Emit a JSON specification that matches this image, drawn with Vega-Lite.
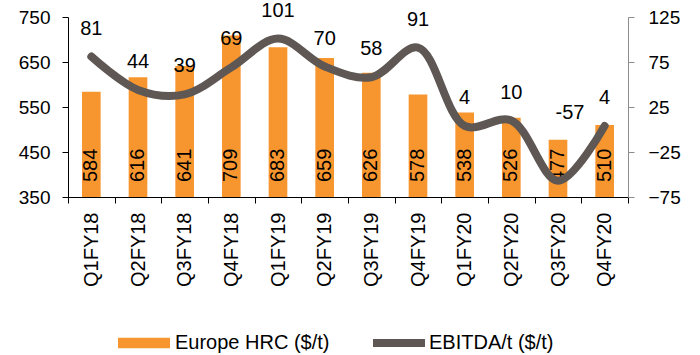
{
  "$schema": "https://vega.github.io/schema/vega-lite/v6.json",
  "width": 560,
  "height": 180,
  "autosize": {"type": "none"},
  "padding": {"left": 68, "top": 17, "right": 72, "bottom": 158},
  "config": {
    "view": {"stroke": null},
    "font": "Liberation Sans",
    "axis": {
      "labelFont": "Liberation Sans",
      "labelFontSize": 19,
      "labelColor": "#000000",
      "grid": false,
      "title": null,
      "tickSize": 6,
      "domainWidth": 1,
      "tickWidth": 1
    },
    "legend": {
      "labelFont": "Liberation Sans",
      "labelFontSize": 20,
      "labelColor": "#000000",
      "title": null,
      "padding": 0
    }
  },
  "data": {
    "values": [
      {"q": "Q1FY18", "hrc": 584, "ebitda": 81},
      {"q": "Q2FY18", "hrc": 616, "ebitda": 44},
      {"q": "Q3FY18", "hrc": 641, "ebitda": 39},
      {"q": "Q4FY18", "hrc": 709, "ebitda": 69},
      {"q": "Q1FY19", "hrc": 683, "ebitda": 101},
      {"q": "Q2FY19", "hrc": 659, "ebitda": 70},
      {"q": "Q3FY19", "hrc": 626, "ebitda": 58},
      {"q": "Q4FY19", "hrc": 578, "ebitda": 91},
      {"q": "Q1FY20", "hrc": 538, "ebitda": 4},
      {"q": "Q2FY20", "hrc": 526, "ebitda": 10},
      {"q": "Q3FY20", "hrc": 477, "ebitda": -57},
      {"q": "Q4FY20", "hrc": 510, "ebitda": 4}
    ]
  },
  "encoding": {
    "x": {
      "field": "q",
      "type": "nominal",
      "sort": null,
      "scale": {"paddingInner": 0, "paddingOuter": 0},
      "axis": {
        "labelAngle": -90,
        "tickBand": "extent",
        "labelPadding": 9,
        "domainColor": "#000000",
        "tickColor": "#000000",
        "labelFontSize": 20
      }
    }
  },
  "layer": [
    {
      "layer": [
        {
          "mark": {"type": "bar", "width": {"band": 0.4}, "color": "#F7962F"},
          "encoding": {
            "y": {
              "field": "hrc",
              "type": "quantitative",
              "scale": {"domain": [350, 750], "nice": false, "zero": false},
              "axis": {
                "values": [350, 450, 550, 650, 750],
                "orient": "left",
                "labelPadding": 12,
                "domainColor": "#000000",
                "tickColor": "#000000"
              }
            },
            "y2": {"datum": 350},
            "color": {
              "datum": "Europe HRC ($/t)",
              "scale": {"range": ["#F7962F"]},
              "legend": {
                "orient": "none",
                "legendX": 50,
                "legendY": 300,
                "symbolType": "M-1,-0.2H1V0.2H-1Z",
                "symbolSize": 2704,
                "symbolStrokeWidth": 0,
                "labelOffset": 5
              }
            }
          }
        },
        {
          "mark": {
            "type": "text",
            "angle": 270,
            "align": "left",
            "baseline": "middle",
            "dx": 15,
            "fontSize": 20,
            "color": "#000000"
          },
          "encoding": {
            "y": {"datum": 350, "type": "quantitative"},
            "text": {"field": "hrc", "type": "nominal"}
          }
        }
      ]
    },
    {
      "layer": [
        {
          "mark": {
            "type": "line",
            "interpolate": "catmull-rom",
            "strokeWidth": 8,
            "strokeCap": "round",
            "color": "#5E5754"
          },
          "encoding": {
            "y": {
              "field": "ebitda",
              "type": "quantitative",
              "scale": {"domain": [-75, 125], "nice": false, "zero": false},
              "axis": {
                "values": [-75, -25, 25, 75, 125],
                "orient": "right",
                "labelPadding": 14,
                "domainColor": "#8C8C8C",
                "tickColor": "#8C8C8C"
              }
            },
            "color": {
              "datum": "EBITDA/t ($/t)",
              "scale": {"range": ["#5E5754"]},
              "legend": {
                "orient": "none",
                "legendX": 301,
                "legendY": 296,
                "symbolType": "stroke",
                "symbolSize": 2704,
                "symbolStrokeWidth": 8,
                "labelOffset": 0
              }
            }
          }
        },
        {
          "transform": [{"filter": "datum.ebitda > -50"}],
          "mark": {
            "type": "text",
            "baseline": "middle",
            "dy": -28,
            "fontSize": 20,
            "color": "#000000"
          },
          "encoding": {
            "y": {"field": "ebitda", "type": "quantitative"},
            "text": {"field": "ebitda", "type": "nominal"}
          }
        },
        {
          "transform": [{"filter": "datum.ebitda <= -50"}],
          "mark": {
            "type": "text",
            "baseline": "middle",
            "dy": -68,
            "dx": 12,
            "fontSize": 20,
            "color": "#000000"
          },
          "encoding": {
            "y": {"field": "ebitda", "type": "quantitative"},
            "text": {"field": "ebitda", "type": "nominal"}
          }
        }
      ]
    }
  ],
  "resolve": {"scale": {"y": "independent", "color": "independent"}}
}
